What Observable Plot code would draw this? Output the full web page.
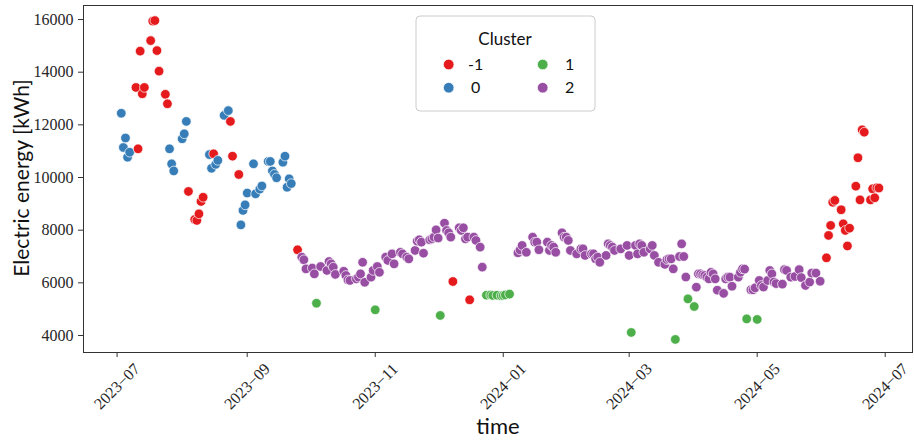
<!DOCTYPE html>
<html><head><meta charset="utf-8">
<script src="https://cdn.jsdelivr.net/npm/d3@7"></script>
<script src="https://cdn.jsdelivr.net/npm/@observablehq/plot@0.6"></script>
<style>body{margin:0;background:#fff;} svg{display:block;}</style>
</head><body><div id="chart"></div>
<script>
const clusterLabels = ["-1", "0", "1", "2"];
const clusterColors = ["#e41a1c", "#377eb8", "#4daf4a", "#984ea3"];
const yTicks = [4000, 6000, 8000, 10000, 12000, 14000, 16000];
const xTicks = ["2023-07-01", "2023-09-01", "2023-11-01", "2024-01-01", "2024-03-01", "2024-05-01", "2024-07-01"];
const xDomain = ["2023-06-15", "2024-07-14"];
const yDomain = [3354, 16533];

// Cluster -1
const cM1Dates = ["2023-07-10","2023-07-11","2023-07-12","2023-07-13","2023-07-14","2023-07-17","2023-07-18","2023-07-19","2023-07-20","2023-07-21","2023-07-24","2023-07-25","2023-08-04","2023-08-07","2023-08-08","2023-08-09","2023-08-10","2023-08-11","2023-08-16","2023-08-24","2023-08-25","2023-08-28","2023-09-25","2023-12-08","2023-12-16","2024-06-03","2024-06-04","2024-06-05","2024-06-06","2024-06-07","2024-06-10","2024-06-11","2024-06-12","2024-06-13","2024-06-14","2024-06-17","2024-06-18","2024-06-19","2024-06-20","2024-06-21","2024-06-24","2024-06-25","2024-06-26","2024-06-27","2024-06-28"];
const cM1Values = [13420,11090,14800,13180,13420,15200,15940,15960,14820,14040,13160,12800,9470,8405,8370,8620,9090,9250,10900,12130,10810,10115,7255,6050,5355,6950,7800,8180,9060,9130,8775,8240,7990,7400,8075,9670,10750,9150,11810,11720,9150,9570,9230,9610,9600];

// Cluster 0
const c0Dates = ["2023-07-03","2023-07-04","2023-07-05","2023-07-06","2023-07-07","2023-07-26","2023-07-27","2023-07-28","2023-08-01","2023-08-02","2023-08-03","2023-08-14","2023-08-15","2023-08-17","2023-08-18","2023-08-21","2023-08-23","2023-08-29","2023-08-30","2023-08-31","2023-09-01","2023-09-04","2023-09-05","2023-09-07","2023-09-08","2023-09-11","2023-09-12","2023-09-13","2023-09-14","2023-09-15","2023-09-18","2023-09-19","2023-09-20","2023-09-21","2023-09-22"];
const c0Values = [12440,11140,11500,10770,10960,11090,10520,10250,11470,11660,12130,10870,10350,10500,10650,12360,12540,8200,8750,8960,9410,10520,9380,9560,9680,10610,10610,10250,10120,9990,10580,10810,9630,9950,9770];

// Cluster 1
const c1Dates = ["2023-10-04","2023-11-01","2023-12-02","2023-12-24","2023-12-26","2023-12-27","2023-12-29","2023-12-31","2024-01-01","2024-01-02","2024-01-04","2024-03-02","2024-03-23","2024-03-29","2024-04-01","2024-04-26","2024-05-01"];
const c1Values = [5225,4975,4760,5530,5540,5520,5530,5510,5520,5540,5570,4115,3850,5390,5100,4630,4610];

// Cluster 2
const c2Dates = ["2023-09-27","2023-09-28","2023-09-29","2023-10-02","2023-10-03","2023-10-06","2023-10-09","2023-10-10","2023-10-11","2023-10-12","2023-10-13","2023-10-17","2023-10-18","2023-10-19","2023-10-20","2023-10-23","2023-10-24","2023-10-25","2023-10-26","2023-10-27","2023-10-30","2023-10-31","2023-11-02","2023-11-03","2023-11-06","2023-11-07","2023-11-09","2023-11-10","2023-11-13","2023-11-14","2023-11-16","2023-11-17","2023-11-20","2023-11-21","2023-11-22","2023-11-23","2023-11-24","2023-11-27","2023-11-28","2023-11-29","2023-11-30","2023-12-01","2023-12-04","2023-12-05","2023-12-06","2023-12-07","2023-12-11","2023-12-12","2023-12-13","2023-12-14","2023-12-15","2023-12-18","2023-12-19","2023-12-21","2023-12-22",
"2024-01-08","2024-01-09","2024-01-10","2024-01-12","2024-01-15","2024-01-16","2024-01-17","2024-01-18","2024-01-22","2024-01-23","2024-01-24","2024-01-25","2024-01-26","2024-01-29","2024-01-30","2024-01-31","2024-02-01","2024-02-02","2024-02-05","2024-02-07","2024-02-08","2024-02-09","2024-02-12","2024-02-13","2024-02-14","2024-02-15","2024-02-16","2024-02-19","2024-02-20","2024-02-21","2024-02-22","2024-02-23","2024-02-26","2024-02-29","2024-03-01","2024-03-04","2024-03-05","2024-03-06","2024-03-07","2024-03-08","2024-03-11","2024-03-12","2024-03-13","2024-03-15","2024-03-18","2024-03-19","2024-03-20","2024-03-21","2024-03-22","2024-03-25","2024-03-26","2024-03-27","2024-03-28",
"2024-04-02","2024-04-03","2024-04-04","2024-04-05","2024-04-06","2024-04-07","2024-04-08","2024-04-09","2024-04-10","2024-04-11","2024-04-12","2024-04-15","2024-04-16","2024-04-17","2024-04-18","2024-04-19","2024-04-22","2024-04-23","2024-04-24","2024-04-25","2024-04-28","2024-04-29","2024-04-30","2024-05-02","2024-05-03","2024-05-04","2024-05-06","2024-05-07","2024-05-08","2024-05-09","2024-05-10","2024-05-13","2024-05-14","2024-05-15","2024-05-17","2024-05-19","2024-05-21","2024-05-22","2024-05-24","2024-05-26","2024-05-27","2024-05-29","2024-05-31"];
const c2Values = [6975,6875,6530,6560,6340,6620,6470,6810,6720,6595,6320,6440,6280,6110,6090,6150,6215,6340,6780,6020,6215,6470,6620,6400,6975,6850,7100,6720,7160,7100,6975,6910,7230,7580,7635,7545,7125,7635,7670,7735,8010,7700,8265,7990,7900,7735,8090,7990,8090,7670,7735,7735,7610,7355,6595,
7140,7250,7420,7160,7735,7545,7545,7255,7545,7230,7420,7355,7160,7900,7735,7735,7610,7230,7100,7290,7290,7040,7100,7100,6910,6975,6780,7040,7480,7420,7355,7230,7290,7420,7040,7420,7100,7480,7420,7160,7290,7420,7040,6780,6700,6880,6910,6910,6530,7000,7480,7000,6220,
5835,6340,6340,6300,6280,6215,6150,6400,6340,6150,5720,5600,6150,6215,6215,5870,6215,6400,6530,6520,5735,5735,5810,6090,5900,5840,6090,6470,6340,6030,5970,5950,6500,6470,6215,6240,6500,6200,5900,6030,6370,6370,6060];

const parse = d3.utcParse("%Y-%m-%d");
const groups = [[cM1Dates, cM1Values], [c0Dates, c0Values], [c1Dates, c1Values], [c2Dates, c2Values]];
const rows = [];
groups.forEach(([ds, vs], i) => ds.forEach((d, j) => rows.push({date: parse(d), value: vs[j], cluster: clusterLabels[i]})));
rows.sort((a, b) => a.date - b.date);

const xTickDates = xTicks.map(parse);
const fmt = d3.utcFormat("%Y\u2212%m");
const serif = "'Liberation Serif', 'DejaVu Serif', serif";
const sans = "Lato, 'Noto Sans', sans-serif";

const chart = Plot.plot({
  width: 914, height: 442,
  marginLeft: 83, marginRight: 2, marginTop: 5, marginBottom: 90,
  style: {background: "white", color: "#262626"},
  x: {type: "utc", domain: xDomain.map(parse)},
  y: {domain: yDomain},
  color: {domain: clusterLabels, range: clusterColors},
  marks: [
    Plot.dot(rows, {x: "date", y: "value", fill: "cluster", r: 4.8, stroke: "white", strokeWidth: 0.7}),
    Plot.frame({stroke: "#333", strokeWidth: 1}),
    Plot.axisX({ticks: xTickDates, tickSize: 5, tickFormat: () => "", label: null, stroke: "#333"}),
    Plot.text(xTickDates, {x: d => d, frameAnchor: "bottom", dy: 34, rotate: -45, text: d => fmt(d), fontSize: 16, fontFamily: serif, textAnchor: "middle", lineAnchor: "middle", fill: "#262626"}),
    Plot.axisY({ticks: yTicks, tickSize: 5, tickPadding: 5, tickFormat: d => String(d), label: null, fontSize: 16, fontFamily: serif, stroke: "#333"})
  ]
});
document.getElementById("chart").appendChild(chart);

const svg = d3.select(chart);
svg.append("text").attr("transform", "translate(24,178) rotate(-90)")
  .attr("text-anchor", "middle").attr("dominant-baseline", "middle")
  .attr("font-family", sans).attr("font-size", 21).attr("fill", "#111").text("Electric energy [kWh]");
svg.append("text").attr("x", 498).attr("y", 428)
  .attr("text-anchor", "middle").attr("dominant-baseline", "middle")
  .attr("font-family", sans).attr("font-size", 22).attr("fill", "#111").text("time");

// legend
const lg = svg.append("g");
lg.append("rect").attr("x", 416).attr("y", 16).attr("width", 179).attr("height", 95).attr("rx", 4)
  .attr("fill", "white").attr("fill-opacity", 0.85).attr("stroke", "#cccccc").attr("stroke-width", 1);
lg.append("text").attr("x", 505).attr("y", 41).attr("text-anchor", "middle").attr("dominant-baseline", "middle")
  .attr("font-family", sans).attr("font-size", 17).attr("fill", "#111").text("Cluster");
clusterLabels.forEach((lab, i) => {
  const col = Math.floor(i / 2), row = i % 2;
  const cx = 448.7 + col * 94, cy = 64.5 + row * 23.2;
  lg.append("circle").attr("cx", cx).attr("cy", cy).attr("r", 5.3).attr("fill", clusterColors[i]).attr("stroke", "white").attr("stroke-width", 0.7);
  lg.append("text").attr("x", cx + 27).attr("y", cy + 1).attr("dominant-baseline", "middle")
    .attr("font-family", sans).attr("font-size", 16).attr("fill", "#111").text(lab);
});
</script>
</body></html>
